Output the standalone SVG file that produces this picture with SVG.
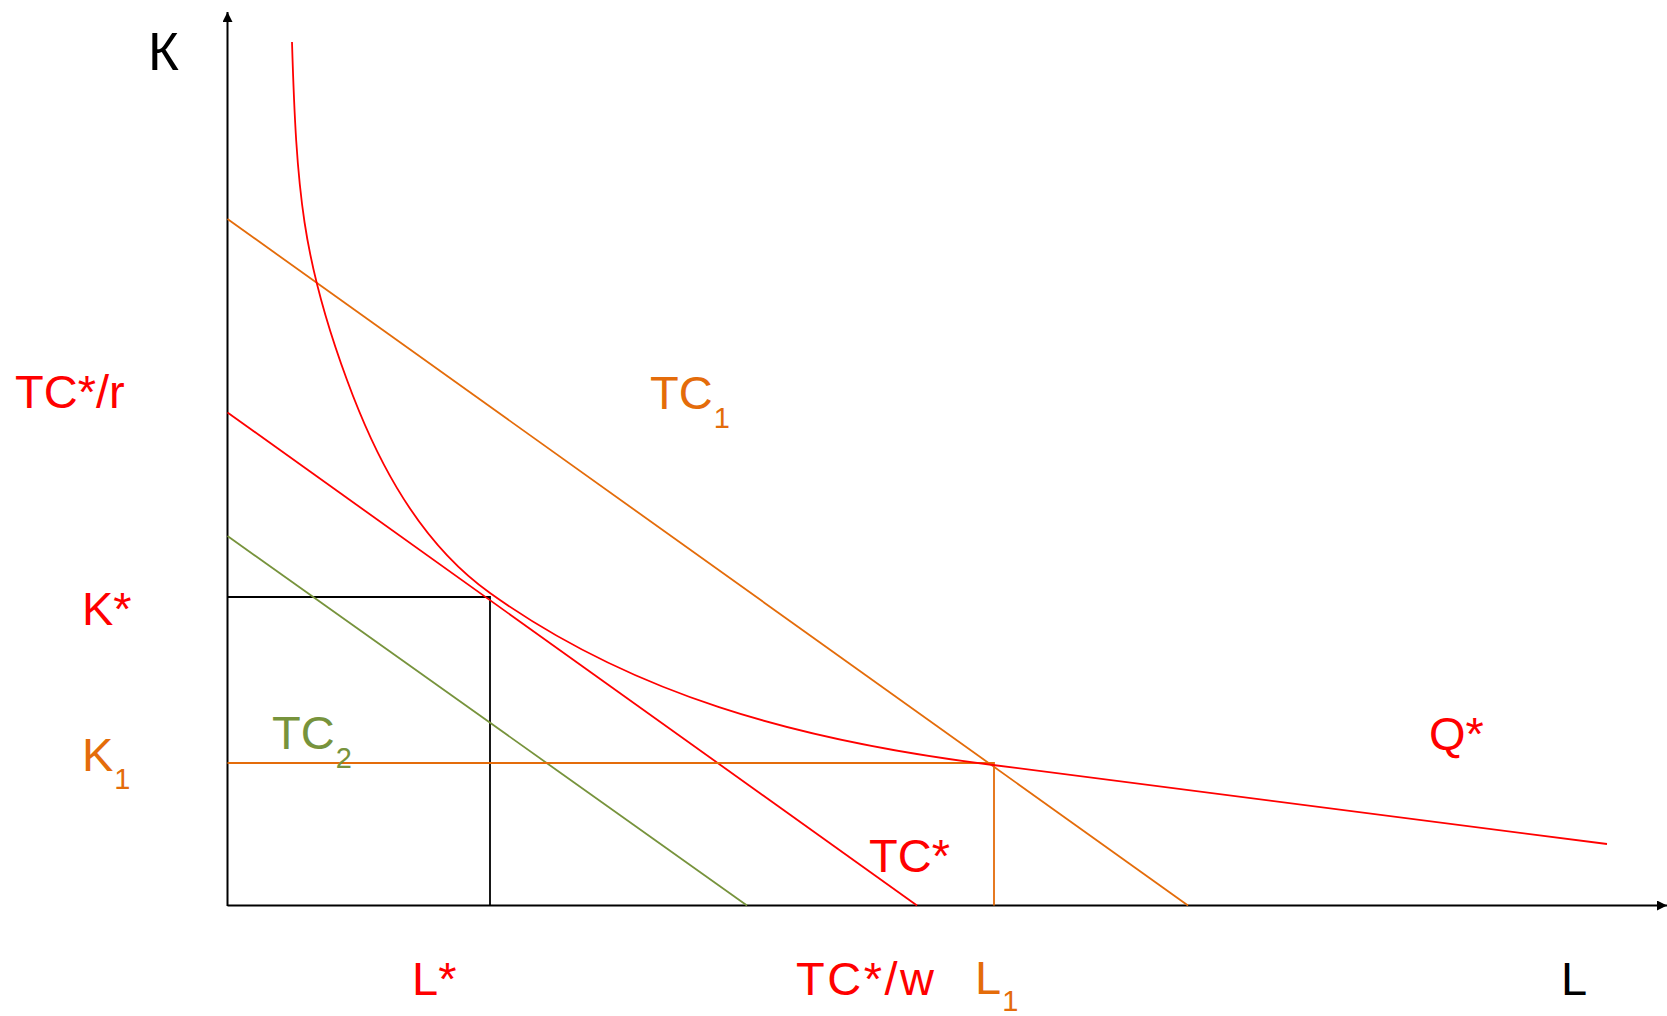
<svg xmlns="http://www.w3.org/2000/svg" width="1667" height="1016" viewBox="0 0 1667 1016">
<style>
text{font-family:"Liberation Sans",Arial,sans-serif;font-size:47px}
.red{fill:#FF0000}.org{fill:#E46C0A}.grn{fill:#77933C}.blk{fill:#000}
.sub{font-size:29px}
.ln{fill:none;stroke-width:1.8}
</style>
<defs>
<marker id="ah" viewBox="0 0 10 10" refX="10" refY="5" markerWidth="10" markerHeight="10" markerUnits="userSpaceOnUse" orient="auto">
<path d="M0,0 L10,5 L0,10 z" fill="#000"/>
</marker>
</defs>
<rect width="1667" height="1016" fill="#fff"/>
<g id="connectors">
<line id="y-axis" x1="227.5" y1="906" x2="227.5" y2="12" stroke="#000" stroke-width="2" marker-end="url(#ah)"/>
<line id="x-axis" x1="227.5" y1="905.5" x2="1667" y2="905.5" stroke="#000" stroke-width="2" marker-end="url(#ah)"/>
<polyline id="kstar-lstar" points="227.5,597 490,597 490,905.5" class="ln" stroke="#000" stroke-width="2"/>
<line id="tc1-line" x1="227.5" y1="219" x2="1188" y2="905.5" class="ln" stroke="#E46C0A"/>
<line id="tcstar-line" x1="227.5" y1="412.5" x2="917" y2="905.5" class="ln" stroke="#FF0000"/>
<line id="tc2-line" x1="227.5" y1="536" x2="747" y2="905.5" class="ln" stroke="#77933C"/>
<polyline id="k1-l1" points="227.5,763 994,763 994,905.5" class="ln" stroke="#E46C0A"/>
<path id="qstar-curve" d="M292,42 C296.5,192 302.6,260 347,380 C369,440 410,536 490,593 C630,693 793,740 993,765 L1607,844" class="ln" stroke="#FF0000" stroke-width="2"/>
</g>
<g id="label-K"><text class="blk" x="148" y="70" style="font-size:53px">К</text></g>
<g id="label-L"><text class="blk" x="1561" y="995">L</text></g>
<g id="label-TCr"><text class="red" x="15" y="408">TC*/r</text></g>
<g id="label-TC1"><text class="org" x="650" y="409">TC<tspan class="sub" dx="1" dy="19">1</tspan></text></g>
<g id="label-Kstar"><text class="red" x="82" y="625">K*</text></g>
<g id="label-K1"><text class="org" x="82" y="771">K<tspan class="sub" dx="1" dy="18">1</tspan></text></g>
<g id="label-TC2"><text class="grn" x="272" y="749">TC<tspan class="sub" dx="1" dy="19">2</tspan></text></g>
<g id="label-Qstar"><text class="red" x="1429" y="750">Q*</text></g>
<g id="label-TCstar"><text class="red" x="869" y="872">TC*</text></g>
<g id="label-Lstar"><text class="red" x="412" y="995">L*</text></g>
<g id="label-TCw"><text class="red" x="796" y="995" textLength="138">TC*/w</text></g>
<g id="label-L1"><text class="org" x="975" y="994">L<tspan class="sub" dx="1" dy="17">1</tspan></text></g>
</svg>
